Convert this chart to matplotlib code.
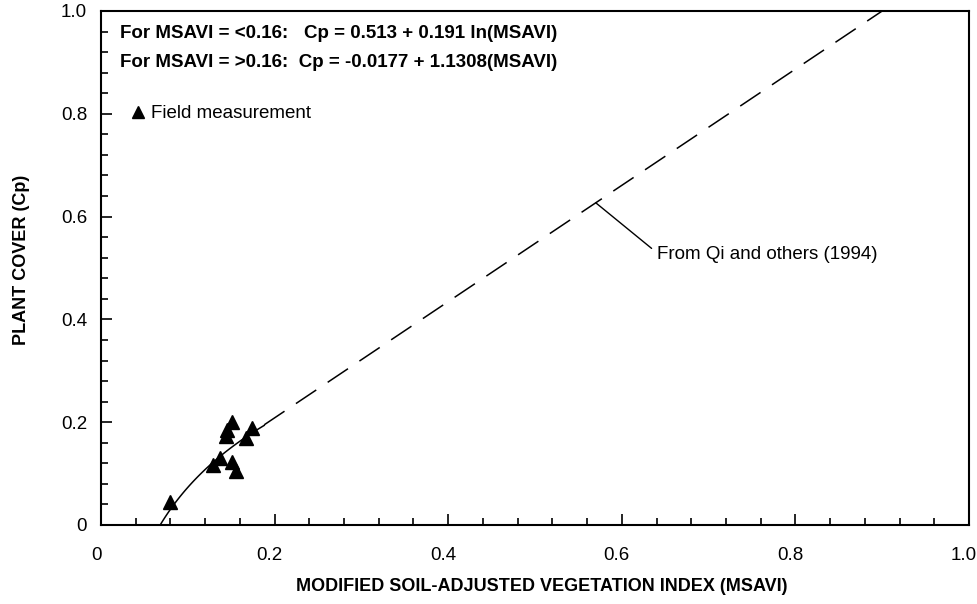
import matplotlib
matplotlib.use("Agg")
import matplotlib.pyplot as plt
import matplotlib.transforms as mtransforms
import numpy as np

plt.rcParams['font.family'] = ['Liberation Sans', 'DejaVu Sans']

# field measurements (MSAVI, plant cover)
msavi = [0.080, 0.129, 0.137, 0.1505, 0.155, 0.1436, 0.145, 0.151, 0.1667, 0.174]
cover = [0.045, 0.1176, 0.130, 0.1234, 0.106, 0.174, 0.185, 0.200, 0.169, 0.188]

# regression coefficients
log_a, log_b = 0.513, 0.191        # Cp = a + b ln(MSAVI), MSAVI < 0.16
lin_a, lin_b = -0.0177, 1.1308     # Cp = a + b MSAVI, MSAVI > 0.16
log_end = 0.188                    # where the solid curve stops
qi_x = 0.57                        # point on the Qi line that carries the note

fig = plt.figure(figsize=(9.77, 6.04), dpi=100)
ax = fig.add_axes([0.1034, 0.1308, 0.8884, 0.851])

# solid log curve from where it crosses zero
x_log = np.linspace(np.exp(-log_a / log_b), log_end, 100)
ax.plot(x_log, log_a + log_b * np.log(x_log), color='black', lw=1.1)

# dashed linear line up to Cp = 1
x_lin = np.array([log_end, (1.0 - lin_a) / lin_b])
ax.plot(x_lin, lin_a + lin_b * x_lin, color='black', lw=1.1,
        dashes=(16, 9), dash_capstyle='butt')

ax.plot(msavi, cover, linestyle='none', marker='^', color='black',
        markersize=10, label='Field measurement')

ax.annotate('From Qi and others (1994)',
            xy=(qi_x, lin_a + lin_b * qi_x), xytext=(0.640, 0.527),
            fontsize=13.5, ha='left', va='center',
            arrowprops=dict(arrowstyle='-', color='black', lw=1.0,
                            relpos=(0, 0.6), shrinkA=2, shrinkB=0))

ax.text(0.022, 0.957, 'For MSAVI = <0.16:   Cp = 0.513 + 0.191 ln(MSAVI)',
        transform=ax.transAxes, fontsize=13.5, fontweight='bold', va='center')
ax.text(0.022, 0.90, 'For MSAVI = >0.16:  Cp = -0.0177 + 1.1308(MSAVI)',
        transform=ax.transAxes, fontsize=13.5, fontweight='bold', va='center')

leg = ax.legend(loc='center left', bbox_to_anchor=(0.03, 0.80), frameon=False,
                fontsize=13.5, handletextpad=0.1, borderpad=0, borderaxespad=0,
                markerscale=0.9, handlelength=1.2)

ax.set_xlim(0, 1.0)
ax.set_ylim(0, 1.0)
ax.set_xticks(np.arange(0, 1.01, 0.2))
ax.set_yticks(np.arange(0, 1.01, 0.2))
ax.set_xticks(np.arange(0, 1.001, 0.04), minor=True)
ax.set_yticks(np.arange(0, 1.001, 0.04), minor=True)
ax.set_xticklabels(['0', '0.2', '0.4', '0.6', '0.8', '1.0'])
ax.set_yticklabels(['0', '0.2', '0.4', '0.6', '0.8', '1.0'])
ax.tick_params(which='both', direction='in', labelsize=13.5, width=1.2,
               top=False, right=False)
ax.tick_params(which='major', length=8)
ax.tick_params(which='minor', length=5)
ax.tick_params(axis='x', which='major', pad=16)
ax.tick_params(axis='y', which='major', pad=10)
for lab in ax.get_xticklabels():
    lab.set_transform(lab.get_transform() +
                      mtransforms.ScaledTranslation(-5 / 100, 0, fig.dpi_scale_trans))
for sp in ax.spines.values():
    sp.set_linewidth(1.5)

ax.set_xlabel('MODIFIED SOIL-ADJUSTED VEGETATION INDEX (MSAVI)',
              fontsize=13, fontweight='bold', va='center')
ax.set_ylabel('PLANT COVER (Cp)', fontsize=13, fontweight='bold', va='center')
ax.xaxis.set_label_coords(0.508, -0.119)
ax.yaxis.set_label_coords(-0.092, 0.516)

fig.savefig('out.png', dpi=100)
